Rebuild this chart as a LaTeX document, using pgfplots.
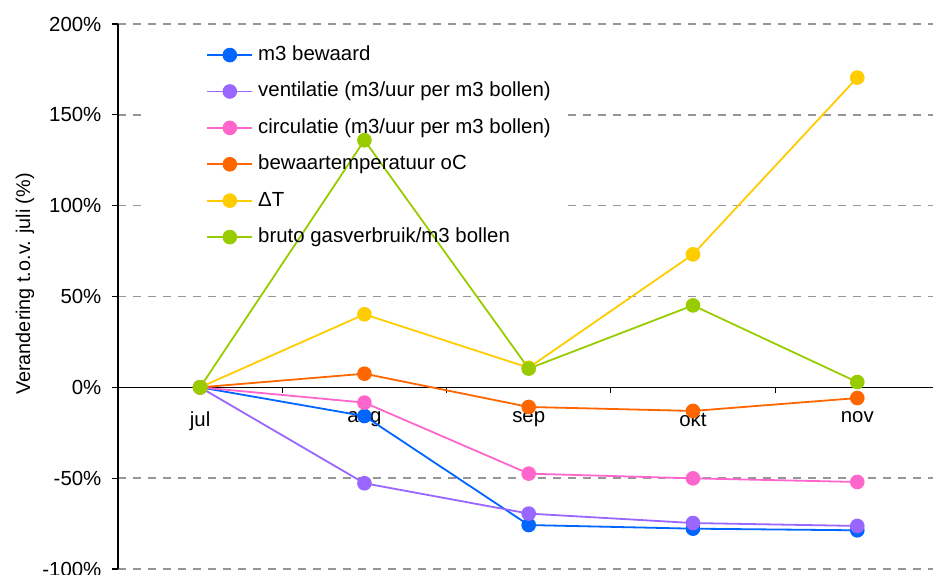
\documentclass[border=0pt]{standalone}
\usepackage{fontspec}
\setmainfont{Liberation Sans}
\usepackage{pgfplots}
\pgfplotsset{compat=1.18}
\definecolor{cblue}{RGB}{0,102,255}
\definecolor{cpurple}{RGB}{153,102,255}
\definecolor{cpink}{RGB}{255,102,204}
\definecolor{corange}{RGB}{255,102,0}
\definecolor{cyellow}{RGB}{255,204,0}
\definecolor{cgreen}{RGB}{153,204,0}
\definecolor{gridgray}{RGB}{150,150,150}

\begin{document}
\begin{tikzpicture}
\begin{axis}[
    set layers,
    at={(59pt,2.5pt)}, anchor=south west,
    width=407.5pt, height=272.5pt, scale only axis,
    xmin=-0.5, xmax=4.461,
    ymin=-100, ymax=200,
    axis x line=middle, axis y line=left,
    axis line style={-, line width=0.6pt, black},
    hide obscured x ticks=false,
    tick align=outside,
    major tick length=2.8pt,
    tick style={line width=0.6pt, black},
    % ticks sit between the months, names are moved half a step right
    xtick={-0.5,0.5,1.5,2.5,3.5},
    xticklabels={jul,aug,sep,okt,nov},
    xticklabel style={xshift=41.07pt, yshift=-6pt},
    ytick={-100,-50,0,50,100,150,200},
    yticklabels={-100\%,-50\%,0\%,50\%,100\%,150\%,200\%},
    ymajorgrids,
    major grid style={gridgray, line width=0.7pt, dash pattern=on 4pt off 3.5pt},
    tick label style={font=\fontsize{10.2}{12}\selectfont},
    yticklabel style={xshift=-2pt},
    ylabel={Verandering t.o.v. juli (\%)},
    ylabel style={at={(axis description cs:-0.114,0.523)}, anchor=center, font=\fontsize{9.9}{12}\selectfont},
    every axis plot/.append style={line width=0.9pt, mark=*, mark size=3.2pt, mark options={solid}},
    legend style={at={(axis description cs:0.108,0.963)}, anchor=north west,
        draw=none, fill=none, inner sep=0pt, row sep=7.7pt, column sep=2.5pt,
        nodes={inner sep=0pt, text height=8pt, text depth=2.5pt},
        font=\fontsize{10.2}{12}\selectfont},
    legend cell align=left,
    legend image code/.code={
        \draw[mark repeat=2, mark phase=2, #1] plot coordinates {(0pt,0pt) (11.25pt,0pt) (22.5pt,0pt)};
    },
]

% white box behind the legend (covers grid, not the lines)
\begin{pgfonlayer}{pre main}
\fill[white] (axis cs:-0.353,196.5) rectangle (axis cs:2.203,74.3);
\end{pgfonlayer}

% m3 bewaard
\addplot[color=cblue] coordinates {(0,0) (1,-15.8) (2,-75.8) (3,-77.8) (4,-78.7)};
% ventilatie
\addplot[color=cpurple] coordinates {(0,0) (1,-52.8) (2,-69.5) (3,-74.7) (4,-76.3)};
% circulatie
\addplot[color=cpink] coordinates {(0,0) (1,-8.4) (2,-47.5) (3,-50.1) (4,-52.1)};
% bewaartemperatuur
\addplot[color=corange] coordinates {(0,0) (1,7.5) (2,-10.8) (3,-13.0) (4,-5.9)};
% delta T
\addplot[color=cyellow] coordinates {(0,0) (1,40.2) (2,10.8) (3,73.2) (4,170.5)};
% bruto gasverbruik
\addplot[color=cgreen] coordinates {(0,0) (1,136.0) (2,10.3) (3,45.1) (4,2.9)};

\legend{m3 bewaard, ventilatie (m3/uur per m3 bollen), circulatie (m3/uur per m3 bollen), bewaartemperatuur oC, ΔT, bruto gasverbruik/m3 bollen}
\end{axis}
\pgfresetboundingbox
\path[use as bounding box] (0,0) rectangle (466.5pt,287pt);
\end{tikzpicture}
\end{document}
